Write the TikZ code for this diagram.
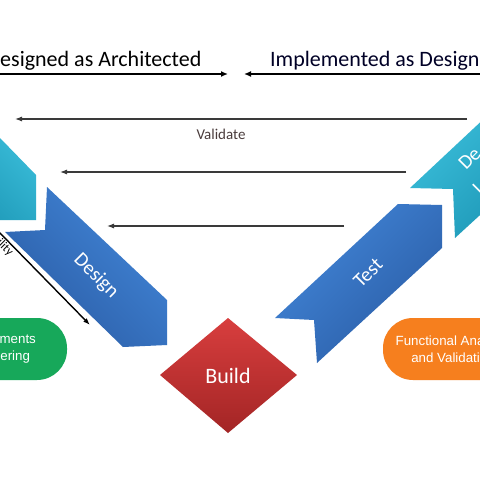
\documentclass[tikz,border=0pt]{standalone}
\usepackage{fontspec}
\setmainfont{Carlito}
\newfontfamily\arialf{Liberation Sans}
\usetikzlibrary{arrows.meta}
\definecolor{blueL}{HTML}{4286D8}
\definecolor{blueD}{HTML}{2A5CA5}
\definecolor{tealL}{HTML}{3EC2DE}
\definecolor{tealD}{HTML}{1C96B5}
\definecolor{redL}{HTML}{D83E3E}
\definecolor{redD}{HTML}{A32525}
\definecolor{greenB}{HTML}{17A85A}
\definecolor{orangeB}{HTML}{F67F1E}
\definecolor{lineG}{HTML}{3A3A3A}
\definecolor{valT}{HTML}{4A3C3C}
\begin{document}
\begin{tikzpicture}[x=1pt,y=-1pt,
  toparrow/.style={line width=1.8pt,black,-{Latex[length=7pt,width=6pt]}},
  valarrow/.style={line width=1.1pt,lineG,-{Latex[length=7pt,width=5pt]}},
  chevtext/.style={text=white,font=\fontsize{20}{24}\selectfont,inner sep=0pt},
  pill/.style={rounded corners=30pt,minimum height=62pt,text=white,align=center,
    font=\arialf\fontsize{13.3}{17}\selectfont,inner sep=0pt}]
\useasboundingbox (0,0) rectangle (480,480);
\clip (0,0) rectangle (480,480);
\fill[white] (0,0) rectangle (480,480);

% top labels
\node[anchor=base west,inner sep=0pt,font=\fontsize{22}{26}\selectfont,text=black] (desarch) at (-13.5,66) {Designed as Architected};
\node[anchor=base west,inner sep=0pt,font=\fontsize{22}{26}\selectfont,text=black!85!blue] (impdes) at (270,66) {Implemented as Designed};
\coordinate (ta1) at (0,74); \coordinate (tb1) at (228,74);
\coordinate (ta2) at (482,74); \coordinate (tb2) at (244,74);
\draw[toparrow] (ta1) -- (tb1);
\draw[toparrow] (ta2) -- (tb2);

% validate arrows
\coordinate (v1a) at (467,119); \coordinate (v1b) at (15,119);
\coordinate (v2a) at (406,172); \coordinate (v2b) at (60,172);
\coordinate (v3a) at (344,226); \coordinate (v3b) at (107,226);
\draw[valarrow] (v1a) -- (v1b);
\draw[valarrow] (v2a) -- (v2b);
\draw[valarrow] (v3a) -- (v3b);
\node[font=\fontsize{15}{17}\selectfont,text=valT,inner sep=0pt] (validate) at (221,134) {Validate};

% left teal chevron (cropped)
\shade[top color=tealL,bottom color=tealD,shading angle=-45]
  (-40,100) -- (0,138) -- (36,175) -- (36,220) -- (-10,220) -- (-60,170) -- cycle;

% Design chevron
\shade[top color=blueL,bottom color=blueD,shading angle=-45]
  (47,187) -- (167,300) -- (167,345) -- (123,347) -- (5,232) -- (45,230) -- cycle;
\node[chevtext,rotate=-45] (design) at (96,276) {Design};

% Test chevron
\shade[top color=blueL,bottom color=blueD,shading angle=45]
  (275,318) -- (398,204) -- (442,205) -- (442,248) -- (317,363) -- (314,320) -- cycle;
\node[chevtext,rotate=45] (test) at (368,273) {Test};

% right teal chevron (cropped)
\shade[top color=tealL,bottom color=tealD,shading angle=45]
  (410,188) -- (520,85) -- (540,105) -- (540,160) -- (455,238) -- (453,189) -- cycle;
\node[chevtext,rotate=45,anchor=base west] (dev1) at (466,171) {De};
\node[chevtext,rotate=45,anchor=base west] (dev2) at (480,196) {I};

% Build diamond
\shade[top color=redL,bottom color=redD]
  (228,318) -- (297,375) -- (228,433) -- (160,375) -- cycle;
\node[text=white,font=\fontsize{22}{26}\selectfont,inner sep=0pt] (build) at (228,376) {Build};

% traceability arrow
\coordinate (tr1) at (-2,231); \coordinate (tr2) at (90,325);
\draw[line width=1.4pt,black,-{Latex[length=7pt,width=5pt]}] (tr1) -- (tr2);
\node[rotate=-45,anchor=base east,inner sep=0pt,font=\fontsize{12}{14}\selectfont] (trace) at (9,256) {Traceability};

% rounded boxes
\node[pill,fill=greenB,minimum width=145pt] (req) at (-5.5,349) {Requirements\\Engineering};
\node[pill,fill=orangeB,minimum width=140pt] (func) at (453,349) {Functional Analysis\\and Validation};
\end{tikzpicture}
\end{document}
